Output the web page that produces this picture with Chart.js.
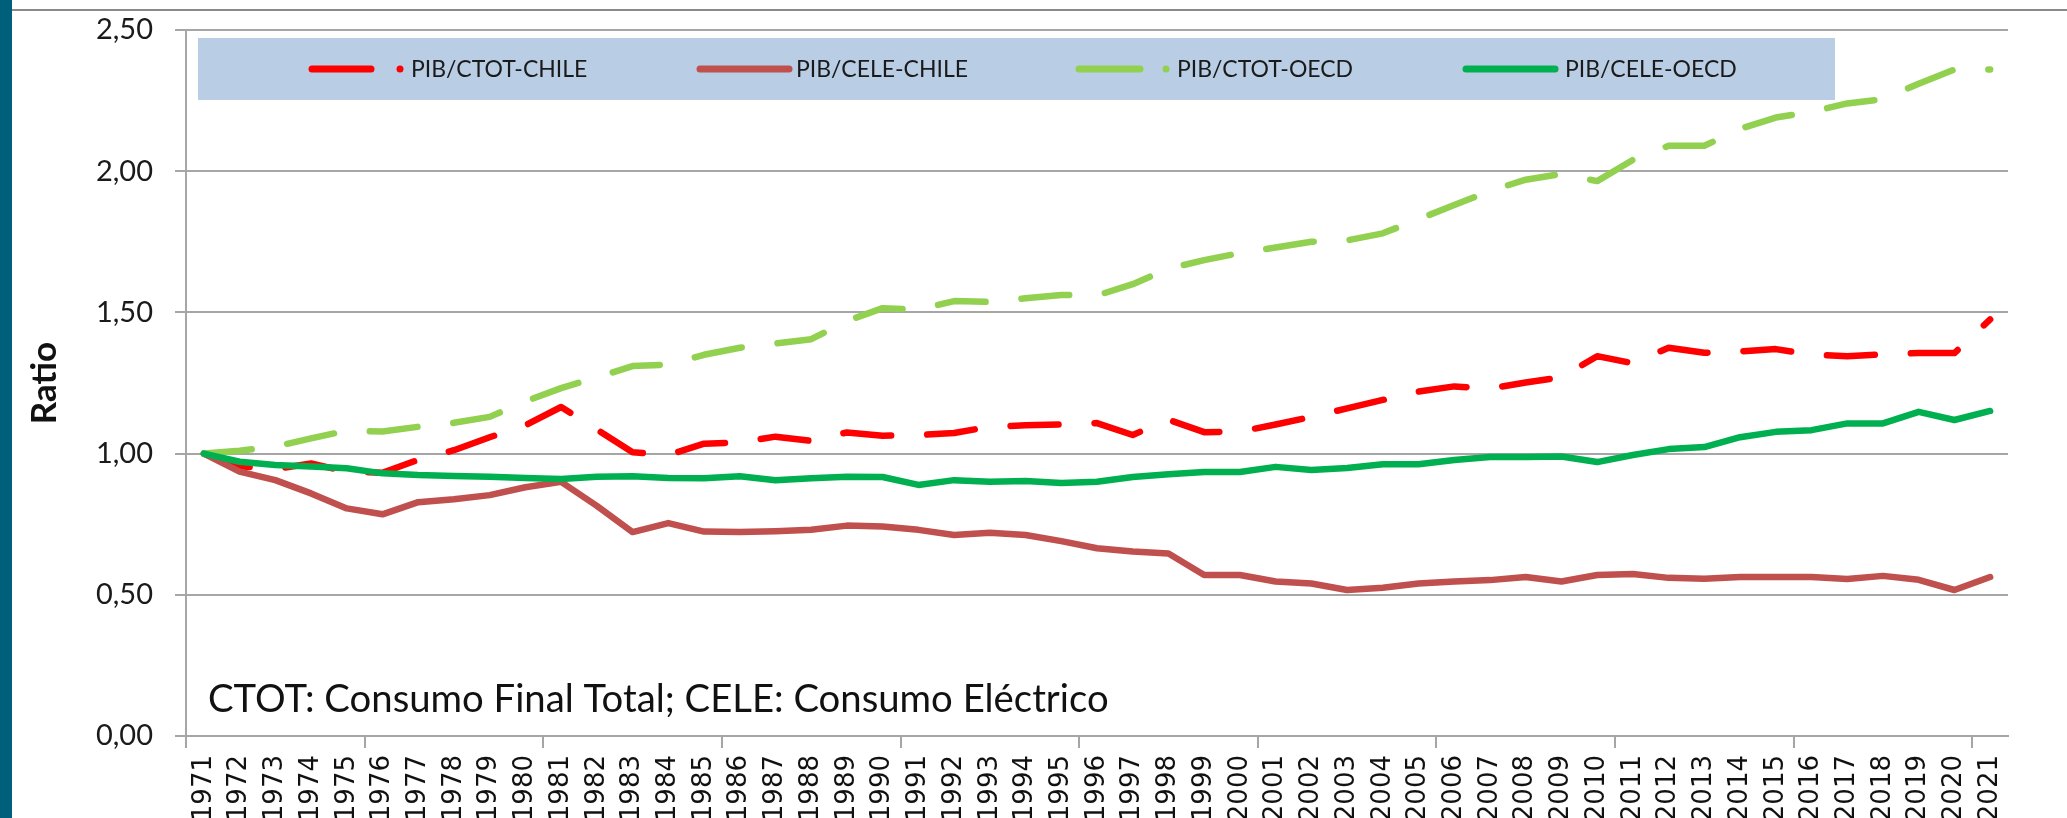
<!DOCTYPE html>
<html>
<head>
<meta charset="utf-8">
<script src="https://cdn.jsdelivr.net/npm/chart.js@4.4.1/dist/chart.umd.min.js"></script>
<style>
  html, body { margin: 0; padding: 0; background: #fff; overflow: hidden; }
  canvas { display: block; }
</style>
</head>
<body>
<canvas id="c" width="2067" height="818"></canvas>
<script>
// ---- data ----
const years = ["1971","1972","1973","1974","1975","1976","1977","1978","1979","1980",
  "1981","1982","1983","1984","1985","1986","1987","1988","1989","1990",
  "1991","1992","1993","1994","1995","1996","1997","1998","1999","2000",
  "2001","2002","2003","2004","2005","2006","2007","2008","2009","2010",
  "2011","2012","2013","2014","2015","2016","2017","2018","2019","2020","2021"];

const pibCtotChile = [1.00,0.955,0.945,0.965,0.936,0.932,0.978,1.012,1.058,1.100,
  1.165,1.085,1.005,0.995,1.035,1.040,1.060,1.045,1.075,1.063,
  1.066,1.073,1.095,1.100,1.103,1.108,1.066,1.120,1.076,1.078,
  1.103,1.130,1.160,1.190,1.220,1.238,1.230,1.252,1.270,1.345,
  1.320,1.375,1.357,1.362,1.370,1.350,1.345,1.352,1.356,1.356,1.475];

const pibCeleChile = [1.00,0.936,0.906,0.859,0.806,0.785,0.828,0.838,0.853,0.881,
  0.900,0.815,0.722,0.754,0.724,0.722,0.725,0.730,0.745,0.742,
  0.730,0.712,0.720,0.712,0.690,0.665,0.653,0.646,0.570,0.570,
  0.547,0.540,0.517,0.525,0.540,0.547,0.552,0.563,0.547,0.570,
  0.574,0.560,0.557,0.563,0.563,0.563,0.556,0.567,0.553,0.517,0.563];

const pibCtotOecd = [1.00,1.010,1.025,1.054,1.081,1.078,1.095,1.109,1.130,1.185,
  1.232,1.270,1.310,1.315,1.350,1.375,1.390,1.405,1.470,1.515,
  1.510,1.540,1.537,1.550,1.562,1.560,1.600,1.655,1.685,1.710,
  1.730,1.750,1.755,1.780,1.830,1.880,1.930,1.970,1.990,1.965,
  2.040,2.090,2.090,2.150,2.190,2.210,2.240,2.255,2.310,2.360,2.360];

const pibCeleOecd = [1.00,0.971,0.960,0.954,0.948,0.930,0.924,0.921,0.918,0.914,
  0.910,0.918,0.920,0.914,0.913,0.920,0.906,0.913,0.918,0.917,
  0.889,0.906,0.900,0.903,0.896,0.900,0.917,0.927,0.935,0.935,
  0.953,0.942,0.949,0.962,0.962,0.977,0.988,0.988,0.990,0.970,
  0.995,1.016,1.023,1.058,1.077,1.083,1.107,1.107,1.148,1.119,1.151];

const seriesLabels = ["PIB/CTOT-CHILE","PIB/CELE-CHILE","PIB/CTOT-OECD","PIB/CELE-OECD"];
const yTicks = [0, 0.5, 1.0, 1.5, 2.0, 2.5];
const footnote = "CTOT: Consumo Final Total; CELE: Consumo Eléctrico";

// ---- decoration / legend plugin ----
const legendLayout = [
  { lineFrom: 312, lineTo: 371, dot: 400, text: 411 },
  { lineFrom: 700, lineTo: 789, dot: null, text: 796 },
  { lineFrom: 1079, lineTo: 1140, dot: 1166, text: 1177 },
  { lineFrom: 1466, lineTo: 1555, dot: null, text: 1565 }
];

const decor = {
  id: 'decor',
  beforeDraw(chart) {
    const ctx = chart.ctx;
    ctx.save();
    ctx.fillStyle = '#ffffff';
    ctx.fillRect(0, 0, chart.width, chart.height);
    ctx.fillStyle = '#00607b';
    ctx.fillRect(0, 0, 12, chart.height);
    ctx.strokeStyle = '#8a8a8a';
    ctx.lineWidth = 2;
    ctx.beginPath();
    ctx.moveTo(12, 10);
    ctx.lineTo(chart.width, 10);
    ctx.stroke();
    // legend box
    ctx.fillStyle = '#B9CDE5';
    ctx.fillRect(198, 38, 1637, 62);
    ctx.restore();
  },
  afterDraw(chart) {
    const ctx = chart.ctx;
    ctx.save();
    const yc = 69;
    chart.data.datasets.forEach((ds, i) => {
      const L = legendLayout[i];
      ctx.strokeStyle = ds.borderColor;
      ctx.fillStyle = ds.borderColor;
      ctx.lineWidth = 7;
      ctx.lineCap = 'round';
      ctx.setLineDash([]);
      ctx.beginPath();
      ctx.moveTo(L.lineFrom, yc);
      ctx.lineTo(L.lineTo, yc);
      ctx.stroke();
      if (L.dot !== null) {
        ctx.beginPath();
        ctx.arc(L.dot, yc, 3.5, 0, Math.PI * 2);
        ctx.fill();
      }
      ctx.fillStyle = '#1a1a1a';
      ctx.font = '23px Lato';
      ctx.textBaseline = 'middle';
      ctx.textAlign = 'left';
      ctx.fillText(ds.label, L.text, yc + 1);
    });
    ctx.fillStyle = '#111111';
    ctx.font = '38.3px Lato';
    ctx.textBaseline = 'alphabetic';
    ctx.fillText(footnote, 208, 712);
    ctx.restore();
  }
};

const colors = ['#FF0000', '#C0504D', '#92D050', '#00B050'];
const dashes = [[48, 36], [], [48, 36], []];
const dataArrays = [pibCtotChile, pibCeleChile, pibCtotOecd, pibCeleOecd];
const orders = [3, 2, 1, 0];

new Chart(document.getElementById('c'), {
  type: 'line',
  data: {
    labels: years,
    datasets: dataArrays.map((d, i) => ({
      label: seriesLabels[i],
      data: d,
      borderColor: colors[i],
      backgroundColor: colors[i],
      borderWidth: 6.5,
      borderDash: dashes[i],
      borderCapStyle: 'round',
      borderJoinStyle: 'round',
      pointRadius: 0,
      tension: 0,
      fill: false,
      order: orders[i]
    }))
  },
  options: {
    responsive: false,
    animation: false,
    devicePixelRatio: 1,
    layout: { padding: { top: 30, right: 59, left: 0, bottom: 0 } },
    plugins: { legend: { display: false }, tooltip: { enabled: false } },
    scales: {
      x: {
        type: 'category',
        offset: true,
        grid: {
          offset: true,
          drawOnChartArea: false,
          drawTicks: true,
          tickLength: 12,
          lineWidth: 2,
          color: (c) => (c.index !== undefined && c.index % 5 === 0) ? '#a6a6a6' : 'rgba(0,0,0,0)'
        },
        border: { display: true, color: '#a6a6a6', width: 2 },
        ticks: {
          autoSkip: false, maxRotation: 90, minRotation: 90, padding: 7,
          font: { family: 'DejaVu Sans', size: 26 }, color: '#111111'
        },
        afterFit: (s) => { s.height = 82; }
      },
      y: {
        min: 0, max: 2.5,
        afterBuildTicks: (s) => { s.ticks = yTicks.map(v => ({ value: v })); },
        ticks: {
          padding: 22,
          callback: (v) => Number(v).toFixed(2).replace('.', ','),
          font: { family: 'Lato', size: 29 }, color: '#1a1a1a'
        },
        grid: { color: '#a6a6a6', lineWidth: 2, tickLength: 11 },
        border: { display: true, color: '#a6a6a6', width: 2 },
        title: {
          display: true, text: 'Ratio', color: '#111111',
          font: { family: 'Lato', size: 35, weight: 'bold' },
          padding: { top: 24, bottom: 0 }
        },
        afterFit: (s) => { s.width = 186; s.paddingTop = 0; s.paddingBottom = 0; }
      }
    }
  },
  plugins: [decor]
});
</script>
</body>
</html>
